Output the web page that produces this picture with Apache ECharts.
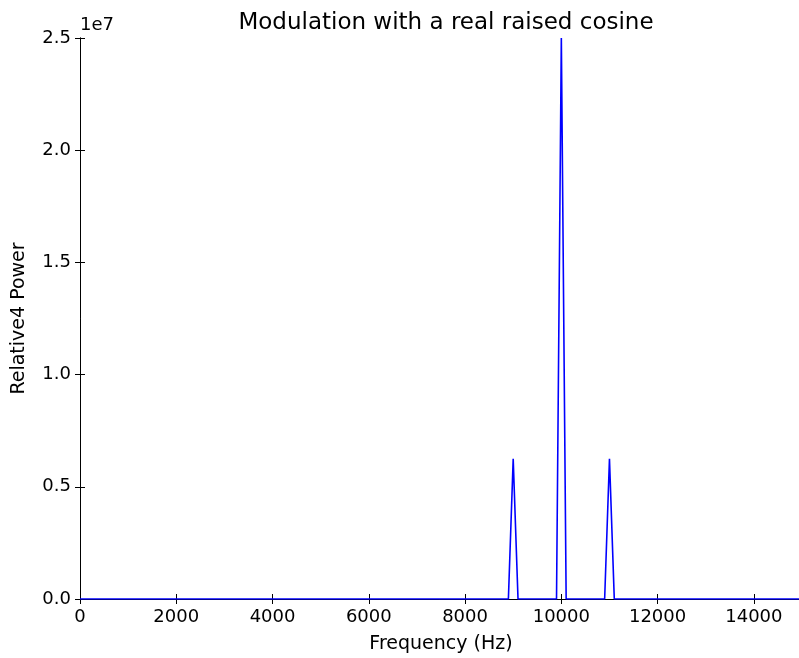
<!DOCTYPE html>
<html>
<head>
<meta charset="utf-8">
<script src="https://cdn.jsdelivr.net/npm/echarts@6/dist/echarts.min.js"></script>
<style>
  html, body { margin: 0; padding: 0; background: #fff; }
  #chart { width: 799px; height: 658px; }
</style>
</head>
<body>
<div id="chart"></div>
<script>
// spectrum points (Hz) -- zero everywhere except the three spikes
var freqs = [0, 8900, 9000, 9100, 9900, 10000, 10100, 10900, 11000, 11100, 15000];
var power = [0, 0, 6.25e6, 0, 0, 2.5e7, 0, 0, 6.25e6, 0, 0];
var xTicks = [0, 2000, 4000, 6000, 8000, 10000, 12000, 14000];

var font = 'DejaVu Sans';
var myChart = echarts.init(document.getElementById('chart'));

var pts = freqs.map(function (f, i) { return [f, power[i]]; });

var tickStyle = { show: true, inside: true, length: 5, lineStyle: { color: '#000', width: 1 } };

var option = {
    animation: false,
    title: {
        text: 'Modulation with a real raised cosine',
        left: 441, top: 7, textAlign: 'center',
        textStyle: { fontFamily: font, fontSize: 23, fontWeight: 'normal', color: '#000' }
    },
    grid: { left: 80, top: 38, right: -3, bottom: 59, outerBoundsMode: 'none' },
    xAxis: [{
        type: 'value', min: 0, max: 15000, interval: 2000,
        name: 'Frequency (Hz)', nameLocation: 'middle', nameGap: 36,
        nameTextStyle: { fontFamily: font, fontSize: 19, color: '#000' },
        axisLine: { show: true, onZero: false, lineStyle: { color: '#000', width: 1 } },
        axisTick: tickStyle,
        splitLine: { show: false },
        axisLabel: {
            fontFamily: font, fontSize: 18, color: '#000', margin: 9,
            showMaxLabel: false,
            formatter: function (v) { return xTicks.indexOf(v) >= 0 ? String(v) : ''; }
        }
    }, {
        type: 'value', position: 'top', min: 0, max: 15000, interval: 2000,
        axisLine: { show: true, lineStyle: { color: '#000', width: 1 } },
        axisTick: tickStyle, axisLabel: { show: false }, splitLine: { show: false }
    }],
    yAxis: [{
        type: 'value', min: 0, max: 2.5e7, interval: 0.5e7,
        name: 'Relative4 Power', nameLocation: 'middle', nameGap: 51,
        nameTextStyle: { fontFamily: font, fontSize: 19, color: '#000' },
        axisLine: { show: true, onZero: false, lineStyle: { color: '#000', width: 1 } },
        axisTick: tickStyle,
        splitLine: { show: false },
        axisLabel: {
            fontFamily: font, fontSize: 18, color: '#000', margin: 9,
            formatter: function (v) { return (v / 1e7).toFixed(1); }
        }
    }, {
        type: 'value', position: 'right', min: 0, max: 2.5e7, interval: 0.5e7,
        axisLine: { show: true, lineStyle: { color: '#000', width: 1 } },
        axisTick: tickStyle, axisLabel: { show: false }, splitLine: { show: false }
    }],
    graphic: [{
        type: 'text', left: 80, top: 16,
        style: { text: '1e7', fontFamily: font, fontSize: 18, fill: '#000' }
    }],
    series: [{
        type: 'line',
        data: pts,
        showSymbol: false,
        lineStyle: { color: '#0000ff', width: 1.6 }
    }]
};
myChart.setOption(option);
window.addEventListener('resize', myChart.resize);
</script>
</body>
</html>
